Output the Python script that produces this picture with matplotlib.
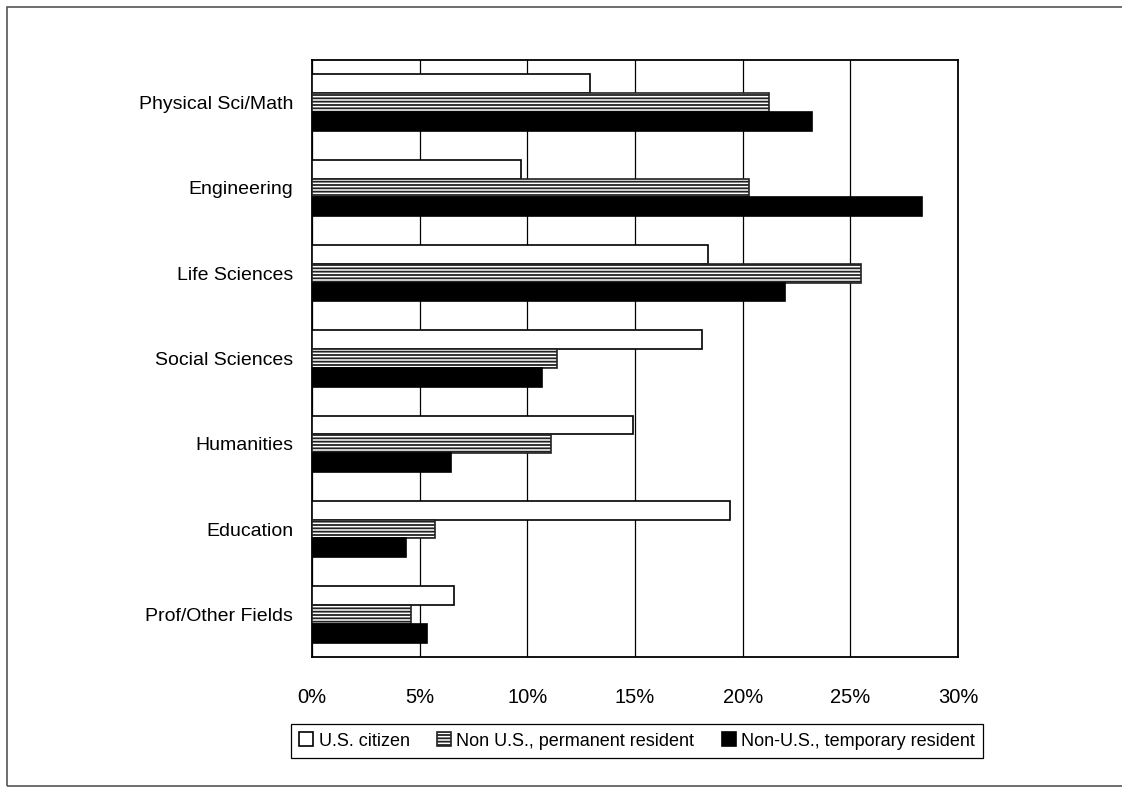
import matplotlib.pyplot as plt
import matplotlib.patches as mpatches
import numpy as np

categories = ["Physical Sci/Math", "Engineering", "Life Sciences", "Social Sciences",
              "Humanities", "Education", "Prof/Other Fields"]
us_citizen = [12.9, 9.7, 18.4, 18.1, 14.9, 19.4, 6.6]
permanent = [21.2, 20.3, 25.5, 11.4, 11.1, 5.7, 4.6]
temporary = [23.2, 28.35, 21.95, 10.7, 6.45, 4.35, 5.35]
series_names = ["U.S. citizen", "Non U.S., permanent resident", "Non-U.S., temporary resident"]
xticks = [0, 5, 10, 15, 20, 25, 30]

plt.rcParams['font.family'] = ['Liberation Sans', 'DejaVu Sans']
plt.rcParams['hatch.linewidth'] = 1.3

fig = plt.figure(figsize=(11.22, 7.87), dpi=100)
ax = fig.add_axes([312/1122, 1 - 657/787, 646/1122, 597/787])

y = np.arange(len(categories))
h = 0.22
b1 = ax.barh(y - h, us_citizen, height=h, color="white", edgecolor="black", linewidth=1.2, zorder=3)
b2 = ax.barh(y, permanent, height=h, color="white", edgecolor="#222222", linewidth=1.2,
             hatch="-----", zorder=3)
b3 = ax.barh(y + h, temporary, height=h, color="black", edgecolor="black", linewidth=1.2, zorder=3)

ax.set_xlim(0, 30)
ax.set_ylim(6.5, -0.5)
ax.set_xticks(xticks)
ax.set_xticklabels([f"{t}%" for t in xticks], fontsize=14.5)
ax.set_yticks(y)
ax.set_yticklabels(categories, fontsize=14)
ax.tick_params(axis="both", length=0)
ax.tick_params(axis="x", pad=22)
ax.tick_params(axis="y", pad=13.5)
ax.grid(axis="x", color="black", linewidth=0.9, zorder=0)
for s in ax.spines.values():
    s.set_linewidth(1.3)
    s.set_color("black")

leg = fig.legend([b1, b2, b3], series_names, loc="center", bbox_to_anchor=(637/1122, 1 - 741/787),
                 ncol=3, fancybox=False, edgecolor="black", framealpha=1,
                 handlelength=0.8, handleheight=0.8, handletextpad=0.3, columnspacing=1.5,
                 borderpad=0.45, prop={'size': 13})
leg.get_frame().set_linewidth(0.9)

fig.patches.append(mpatches.Rectangle((7/1122, 1 - 786/787), 1.2, 779/787, transform=fig.transFigure,
                                      fill=False, edgecolor="#555555", linewidth=1.2))

fig.savefig("out.png", dpi=100)
